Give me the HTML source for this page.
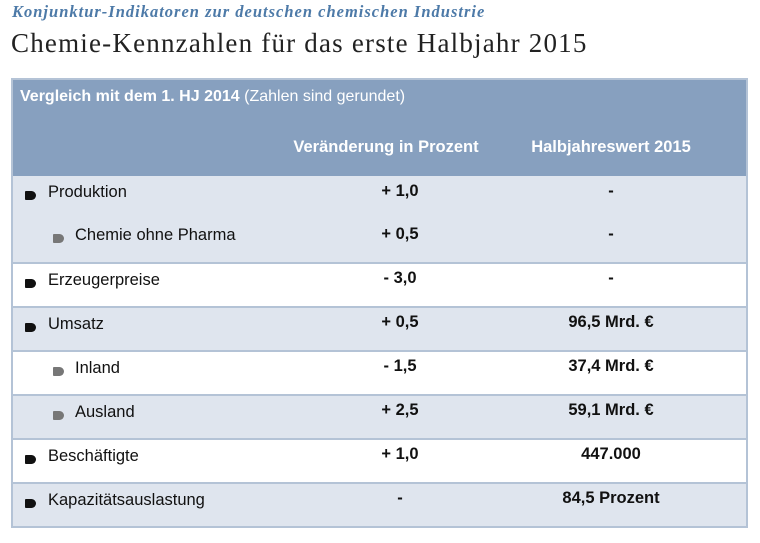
<!DOCTYPE html>
<html><head><meta charset="utf-8"><style>
body{margin:0;width:760px;height:543px;background:#fff;font-family:"Liberation Sans",Arial,sans-serif;position:relative;overflow:hidden}
.kicker{position:absolute;left:12px;top:2px;font-family:"Liberation Serif",serif;font-style:italic;font-weight:bold;font-size:16.5px;letter-spacing:1px;color:#4d7aa8}
.title{position:absolute;left:11px;top:28px;font-family:"Liberation Serif",serif;font-size:27px;letter-spacing:1.2px;color:#222}
.tbl{position:absolute;left:11px;top:78px;width:737px;height:450px;border:2px solid #b4c3d6;box-sizing:border-box;background:#fff;overflow:hidden}
.hdr{position:absolute;left:0;top:0;right:0;height:96px;background:#87a0bf;color:#fff}
.hdr .cap{position:absolute;left:7px;top:8px;font-size:16px}
.hdr .c2,.hdr .c3{position:absolute;top:58px;font-size:16.5px;font-weight:bold;transform:translateX(-50%);white-space:nowrap}
.row{position:absolute;left:0;right:0;border-top:2px solid #b4c3d6;box-sizing:border-box}
.light{background:#dfe5ee}
.cell{position:absolute;font-size:16.5px;color:#111;white-space:nowrap}
.lab{left:35px}
.lab.sub{left:62px}
.v{font-weight:bold;transform:translateX(-50%)}
.b{position:absolute;width:11px;height:9px;background:#111;border-radius:1px 5px 5px 1px}
.b.g{background:#777}
</style></head><body>
<div class="kicker">Konjunktur-Indikatoren zur deutschen chemischen Industrie</div>
<div class="title">Chemie-Kennzahlen für das erste Halbjahr 2015</div>
<div class="tbl">
 <div class="hdr">
  <div class="cap"><b>Vergleich mit dem 1. HJ 2014</b> (Zahlen sind gerundet)</div>
  <div class="c2" style="left:373px">Veränderung in Prozent</div>
  <div class="c3" style="left:598px">Halbjahreswert 2015</div>
 </div>
 <div class="row light" style="top:96px;height:87px;border-top:none">
  <div class="b" style="left:12px;top:15px"></div><div class="cell lab" style="top:7px">Produktion</div>
  <div class="cell v" style="left:387px;top:6px">+ 1,0</div>
  <div class="cell v" style="left:598px;top:6px">-</div>
  <div class="b g" style="left:40px;top:58px"></div><div class="cell lab sub" style="top:50px">Chemie ohne Pharma</div>
  <div class="cell v" style="left:387px;top:49px">+ 0,5</div>
  <div class="cell v" style="left:598px;top:49px">-</div>
 </div>
 <div class="row" style="top:182px;height:45px">
  <div class="b" style="left:12px;top:15px"></div><div class="cell lab" style="top:7px">Erzeugerpreise</div>
  <div class="cell v" style="left:387px;top:5px">- 3,0</div><div class="cell v" style="left:598px;top:5px">-</div>
 </div>
 <div class="row light" style="top:226px;height:45px">
  <div class="b" style="left:12px;top:15px"></div><div class="cell lab" style="top:7px">Umsatz</div>
  <div class="cell v" style="left:387px;top:5px">+ 0,5</div><div class="cell v" style="left:598px;top:5px">96,5 Mrd. €</div>
 </div>
 <div class="row" style="top:270px;height:45px">
  <div class="b g" style="left:40px;top:15px"></div><div class="cell lab sub" style="top:7px">Inland</div>
  <div class="cell v" style="left:387px;top:5px">- 1,5</div><div class="cell v" style="left:598px;top:5px">37,4 Mrd. €</div>
 </div>
 <div class="row light" style="top:314px;height:45px">
  <div class="b g" style="left:40px;top:15px"></div><div class="cell lab sub" style="top:7px">Ausland</div>
  <div class="cell v" style="left:387px;top:5px">+ 2,5</div><div class="cell v" style="left:598px;top:5px">59,1 Mrd. €</div>
 </div>
 <div class="row" style="top:358px;height:45px">
  <div class="b" style="left:12px;top:15px"></div><div class="cell lab" style="top:7px">Beschäftigte</div>
  <div class="cell v" style="left:387px;top:5px">+ 1,0</div><div class="cell v" style="left:598px;top:5px">447.000</div>
 </div>
 <div class="row light" style="top:402px;height:44px">
  <div class="b" style="left:12px;top:15px"></div><div class="cell lab" style="top:7px">Kapazitätsauslastung</div>
  <div class="cell v" style="left:387px;top:5px">-</div><div class="cell v" style="left:598px;top:5px">84,5 Prozent</div>
 </div>
</div>
</body></html>
